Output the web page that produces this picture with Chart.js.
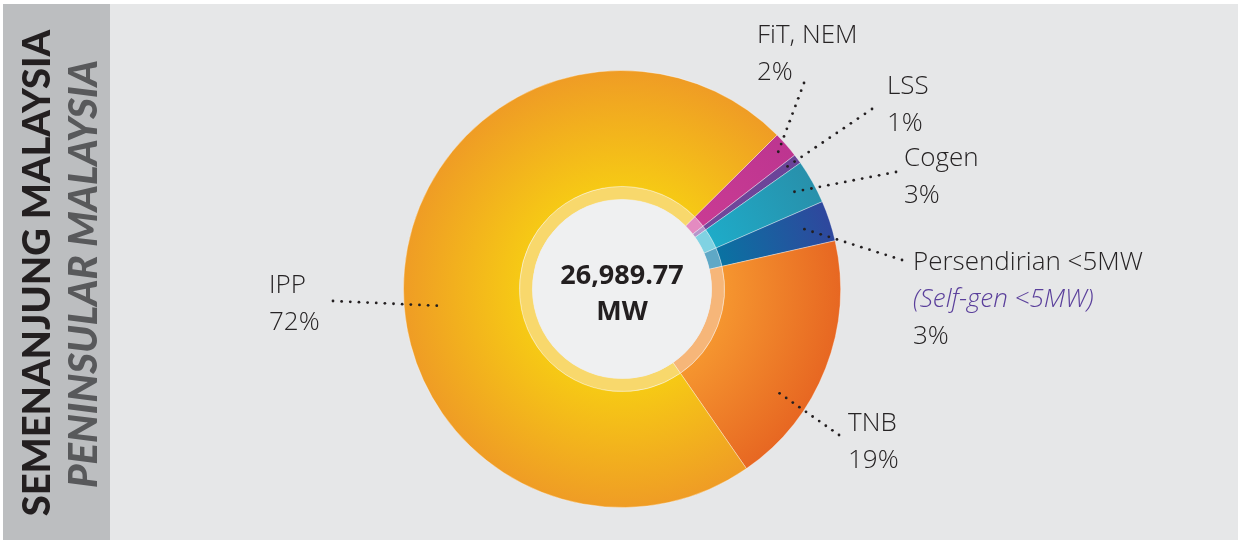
<!DOCTYPE html>
<html>
<head>
<meta charset="utf-8">
<script src="https://cdn.jsdelivr.net/npm/chart.js@4.4.0/dist/chart.umd.min.js"></script>
<style>
  html, body { margin: 0; padding: 0; background: #fff; }
  #wrap { position: relative; width: 1242px; height: 543px; }
</style>
</head>
<body>
<div id="wrap"><canvas id="capacity"></canvas></div>
<script>
// installed capacity share, Peninsular Malaysia
const categories = ["FiT, NEM", "LSS", "Cogen", "Persendirian <5MW", "TNB", "IPP"];
const sharePct = [1.95, 0.7, 3.25, 3.0, 18.9, 72.2];
const shareLabels = ["2%", "1%", "3%", "3%", "19%", "72%"];
const totalLabel = ["26,989.77", "MW"];
const panelTitles = ["SEMENANJUNG MALAYSIA", "PENINSULAR MALAYSIA"];

// inner / outer colour of each slice gradient
const outerColors = [
  ["#c93b93", "#bd3590"],
  ["#72489b", "#694398"],
  ["#1eabc8", "#2890ab"],
  ["#0a72a2", "#2f479d"],
  ["#f5952f", "#e76722"],
  ["#f6c915", "#ef9c25"],
];
const ringColors = ["#e48bc1", "#b596cb", "#80d2e2", "#5fa8c6", "#f6b679", "#f8d86c"];

// where each label sits, and where its dotted leader ends
const labelSpots = [
  { x: 757, y: 43, end: [804, 83], r: 208, f: 0.5 },
  { x: 887, y: 94, end: [872, 109], r: 206, f: 0.5 },
  { x: 904, y: 166, end: [896, 172], r: 198, f: 0.5 },
  { x: 913, y: 270, end: [902, 260], r: 192, f: 0.5, sub: "(Self-gen <5MW)" },
  { x: 848, y: 431, end: [839, 435], r: 189, f: 0.68 },
  { x: 269, y: 293, end: [333, 301], r: 186, f: 0.46 },
];

const labelFont = "300 26px 'Open Sans', Lato, sans-serif";
const lineGap = 37;

function sliceFill(c) {
  const chart = c.chart, area = chart.chartArea;
  const pair = outerColors[c.dataIndex];
  if (!area) return pair[1];
  const cx = (area.left + area.right) / 2, cy = (area.top + area.bottom) / 2;
  const R = Math.min(area.width, area.height) / 2;
  const g = chart.ctx.createRadialGradient(cx, cy, R * 0.47, cx, cy, R);
  g.addColorStop(0, pair[0]);
  g.addColorStop(1, pair[1]);
  return g;
}

function dottedLine(ctx, x1, y1, x2, y2) {
  const len = Math.hypot(x2 - x1, y2 - y1);
  const n = Math.max(1, Math.round(len / 8.5));
  for (let k = 0; k <= n; k++) {
    const t = k / n;
    ctx.beginPath();
    ctx.arc(x1 + (x2 - x1) * t, y1 + (y2 - y1) * t, 1.4, 0, Math.PI * 2);
    ctx.fill();
  }
}

const decor = {
  id: "decor",
  beforeDraw(chart) {
    const ctx = chart.ctx;
    ctx.save();
    ctx.fillStyle = "#ffffff";
    ctx.fillRect(0, 0, chart.width, chart.height);
    ctx.fillStyle = "#e6e7e8";
    ctx.fillRect(3, 4, 1235, 536);
    ctx.fillStyle = "#bcbec0";
    ctx.fillRect(3, 4, 107, 536);

    ctx.textAlign = "center";
    ctx.textBaseline = "alphabetic";
    ctx.translate(50, 273);
    ctx.rotate(-Math.PI / 2);
    ctx.fillStyle = "#231f20";
    ctx.font = "900 38px Lato, 'Open Sans', sans-serif";
    ctx.fillText(panelTitles[0], 0, 0);
    ctx.fillStyle = "#58595b";
    ctx.font = "italic 900 40px Lato, 'Open Sans', sans-serif";
    ctx.fillText(panelTitles[1], -1, 47);
    ctx.restore();
  },
  afterDatasetsDraw(chart) {
    const ctx = chart.ctx;
    const meta = chart.getDatasetMeta(0);
    const inner = chart.getDatasetMeta(1).data[0];
    ctx.save();
    // centre disc
    ctx.fillStyle = "#eff0f1";
    ctx.beginPath();
    ctx.arc(inner.x, inner.y, inner.innerRadius, 0, Math.PI * 2);
    ctx.fill();

    ctx.fillStyle = "#231f20";
    ctx.textAlign = "center";
    ctx.font = "bold 27px 'Open Sans', Lato, sans-serif";
    ctx.fillText(totalLabel[0], inner.x, 284);
    ctx.fillText(totalLabel[1], inner.x, 320);

    // leaders + labels
    ctx.textAlign = "left";
    labelSpots.forEach((s, i) => {
      const arc = meta.data[i];
      const a = arc.startAngle + (arc.endAngle - arc.startAngle) * s.f;
      const px = arc.x + s.r * Math.cos(a), py = arc.y + s.r * Math.sin(a);
      ctx.fillStyle = "#231f20";
      dottedLine(ctx, px, py, s.end[0], s.end[1]);

      ctx.font = labelFont;
      ctx.fillStyle = "#262324";
      let y = s.y;
      ctx.fillText(categories[i], s.x, y);
      if (s.sub) {
        y += lineGap;
        ctx.fillStyle = "#5a3f9b";
        ctx.font = "italic 300 26px 'Open Sans', Lato, sans-serif";
        ctx.fillText(s.sub, s.x, y);
        ctx.font = labelFont;
        ctx.fillStyle = "#262324";
      }
      y += lineGap;
      ctx.fillText(shareLabels[i], s.x, y);
    });
    ctx.restore();
  }
};

new Chart(document.getElementById("capacity"), {
  type: "doughnut",
  data: {
    labels: categories,
    datasets: [
      {
        data: sharePct,
        backgroundColor: sliceFill,
        borderColor: "rgba(255,255,255,0.35)",
        borderWidth: 1,
        weight: 116,
      },
      {
        data: sharePct,
        backgroundColor: ringColors,
        borderColor: "rgba(255,255,255,0.35)",
        borderWidth: 1,
        weight: 13,
      },
    ],
  },
  options: {
    responsive: true,
    maintainAspectRatio: false,
    animation: false,
    rotation: 45.2,
    cutout: "41%",
    layout: { padding: { left: 403, right: 401, top: 70, bottom: 35 } },
    plugins: {
      legend: { display: false },
      tooltip: { enabled: false },
    },
  },
  plugins: [decor],
});
</script>
</body>
</html>
